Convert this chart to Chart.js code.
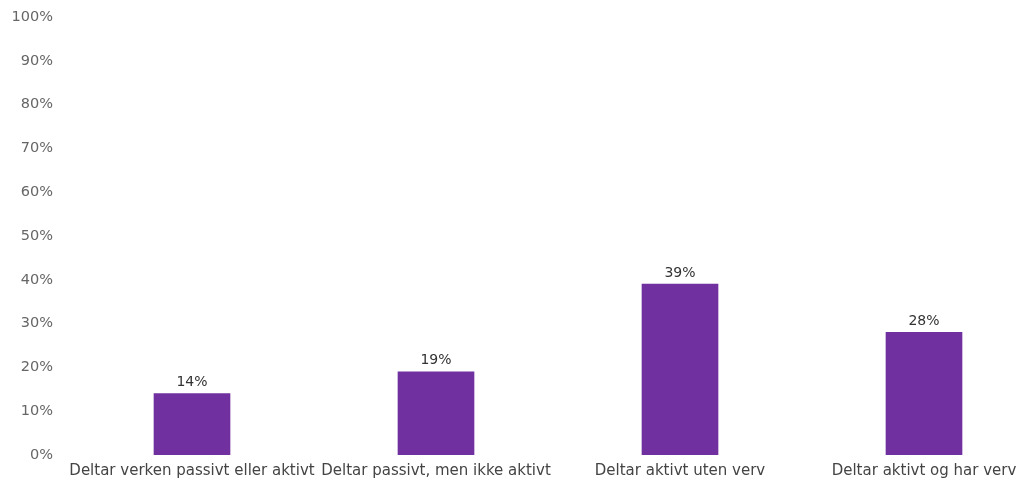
<!DOCTYPE html>
<html>
<head>
<meta charset="utf-8">
<script src="https://cdn.jsdelivr.net/npm/chart.js@4/dist/chart.umd.min.js"></script>
<style>
  html, body { margin: 0; padding: 0; background: #fff; overflow: hidden; }
  #wrap { width: 1046px; height: 486px; }
</style>
</head>
<body>
<div id="wrap"><canvas id="c" width="1046" height="486"></canvas></div>
<script>
const categories = [
  'Deltar verken passivt eller aktivt',
  'Deltar passivt, men ikke aktivt',
  'Deltar aktivt uten verv',
  'Deltar aktivt og har verv'
];
const shares = [14, 19, 39, 28];
const yTicks = [0, 10, 20, 30, 40, 50, 60, 70, 80, 90, 100];

const FONT = '"DejaVu Sans", "Liberation Sans", Arial, sans-serif';

// Writes the percentage above each bar
const valueLabels = {
  id: 'valueLabels',
  afterDatasetsDraw(chart) {
    const ctx = chart.ctx;
    const meta = chart.getDatasetMeta(0);
    ctx.save();
    ctx.font = '14px ' + FONT;
    ctx.fillStyle = '#333';
    ctx.textAlign = 'center';
    ctx.textBaseline = 'bottom';
    meta.data.forEach((bar, i) => {
      ctx.fillText(shares[i] + '%', bar.x, bar.y - 4);
    });
    ctx.restore();
  }
};

new Chart(document.getElementById('c'), {
  type: 'bar',
  data: {
    labels: categories,
    datasets: [{
      data: shares,
      backgroundColor: '#7030A0',
      barThickness: 76
    }]
  },
  options: {
    responsive: false,
    animation: false,
    layout: { padding: 0 },
    plugins: { legend: { display: false }, tooltip: { enabled: false } },
    scales: {
      x: {
        grid: { display: false, drawTicks: false },
        border: { display: false },
        afterFit(axis) { axis.height = 31; },
        ticks: {
          color: '#444',
          font: { family: FONT, size: 15 },
          padding: 7,
          maxRotation: 0,
          autoSkip: false
        }
      },
      y: {
        min: 0,
        max: 100,
        grid: { display: false, drawTicks: false },
        border: { display: false },
        afterBuildTicks(axis) { axis.ticks = yTicks.map(v => ({ value: v })); },
        afterFit(axis) {
          axis.width = 70;
          axis.paddingTop = 17;
          axis.paddingBottom = 8;
        },
        ticks: {
          color: '#666',
          padding: 17,
          font: { family: FONT, size: 14.5 },
          callback: v => v + '%'
        }
      }
    }
  },
  plugins: [valueLabels]
});
</script>
</body>
</html>
